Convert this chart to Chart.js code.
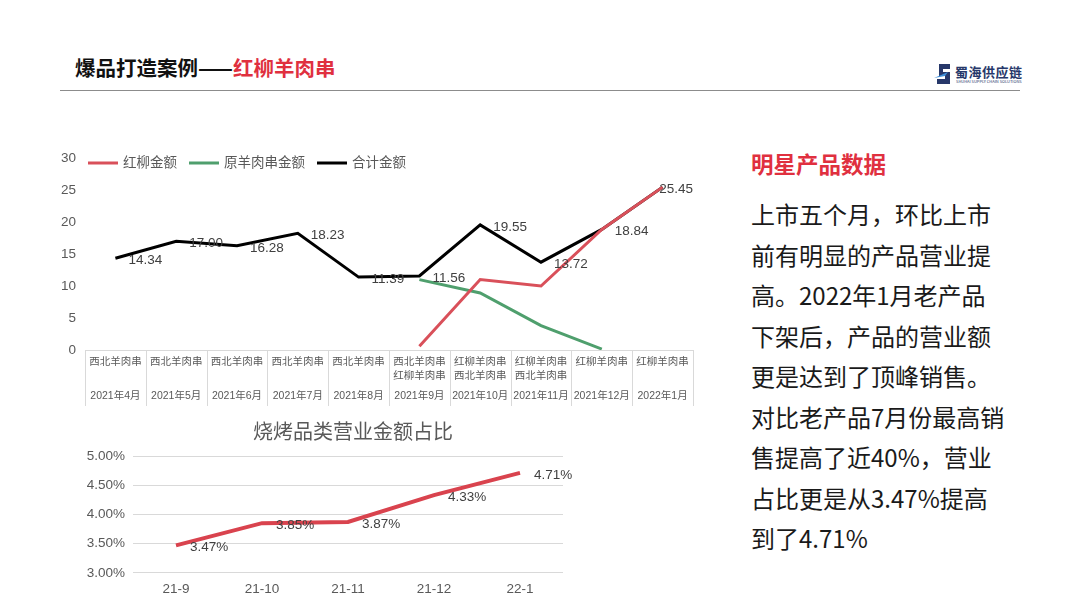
<!DOCTYPE html>
<html>
<head>
<meta charset="utf-8">
<script src="https://cdn.jsdelivr.net/npm/chart.js@4/dist/chart.umd.min.js"></script>
<style>
  body { margin: 0; background: #fff; font-family: 'Noto Sans CJK SC', sans-serif; }
  #page { position: relative; width: 1080px; height: 608px; overflow: hidden; }
  .hdr { position: absolute; left: 75px; top: 52px; font-size: 20.5px; font-weight: 700; color: #111; line-height: 30px; }
  .hdr span { color: #e0303f; }
  .rule { position: absolute; left: 60px; top: 90px; width: 960px; height: 0; border-top: 1.5px solid #8c8c8c; }
  .logo { position: absolute; left: 934px; top: 62px; width: 90px; height: 24px; }
  .logo .name { position: absolute; left: 21px; top: 2px; font-size: 13px; font-weight: 700; color: #27386a; letter-spacing: 0.5px; line-height: 16px; }
  .logo .sub { position: absolute; left: 22px; top: 17px; font-size: 4px; color: #27386a; white-space: nowrap; line-height: 5px; }
  .side-title { position: absolute; left: 751px; top: 147px; font-size: 22.5px; font-weight: 700; color: #e0303f; line-height: 32px; }
  .side-text { position: absolute; left: 751px; top: 194px; font-size: 24px; color: #1a1a1a; line-height: 40.5px; white-space: nowrap; }
  #topWrap { position: absolute; left: 50px; top: 140px; width: 660px; height: 268px; }
  #botWrap { position: absolute; left: 60px; top: 412px; width: 586px; height: 196px; }
</style>
</head>
<body>
<div id="page">
  <div class="hdr">爆品打造案例——<span>红柳羊肉串</span></div>
  <div class="rule"></div>
  <div class="logo">
    <svg width="18" height="22" viewBox="0 0 18 22" style="position:absolute;left:0;top:1px">
      <path d="M5 1h11v5H9v3h7v12H3v-5h8v-3H5z" fill="#27386a"/>
      <path d="M0 15l14-6-3 4z" fill="#3f8fd8"/>
    </svg>
    <div class="name">蜀海供应链</div>
    <div class="sub">SHUHAI SUPPLY CHAIN SOLUTIONS</div>
  </div>

  <div id="topWrap"><canvas id="amountChart"></canvas></div>
  <div id="botWrap"><canvas id="shareChart"></canvas></div>

  <div class="side-title">明星产品数据</div>
  <div class="side-text">上市五个月，环比上市<br>前有明显的产品营业提<br>高。2022年1月老产品<br>下架后，产品的营业额<br>更是达到了顶峰销售。<br>对比老产品7月份最高销<br>售提高了近40%，营业<br>占比更是从3.47%提高<br>到了4.71%</div>
</div>

<script>
// top chart data
const productRows = [
  ['西北羊肉串'], ['西北羊肉串'], ['西北羊肉串'], ['西北羊肉串'], ['西北羊肉串'],
  ['西北羊肉串', '红柳羊肉串'], ['红柳羊肉串', '西北羊肉串'], ['红柳羊肉串', '西北羊肉串'],
  ['红柳羊肉串'], ['红柳羊肉串']
];
const months = ['2021年4月', '2021年5月', '2021年6月', '2021年7月', '2021年8月',
  '2021年9月', '2021年10月', '2021年11月', '2021年12月', '2022年1月'];
const hongliuAmount = [null, null, null, null, null, 0.6, 11.0, 10.0, 18.84, 25.45];
const yuanAmount = [null, null, null, null, null, 11.0, 8.9, 3.8, 0.15, null];
const totalAmount = [14.34, 17.00, 16.28, 18.23, 11.39, 11.56, 19.55, 13.72, 18.84, 25.45];
const amountTicks = [0, 5, 10, 15, 20, 25, 30];

// bottom chart data
const shareMonths = ['21-9', '21-10', '21-11', '21-12', '22-1'];
const sharePct = [3.47, 3.85, 3.87, 4.33, 4.71];
const shareTicks = [3.0, 3.5, 4.0, 4.5, 5.0];

const FONT = "'Liberation Sans', 'Noto Sans CJK SC', sans-serif";
const GREY = '#595959';

// value labels to the right of each point
const valueLabels = {
  id: 'valueLabels',
  afterDatasetsDraw(chart, args, opts) {
    const ctx = chart.ctx;
    chart.data.datasets.forEach((ds, di) => {
      if (!ds.showValues) return;
      const meta = chart.getDatasetMeta(di);
      ctx.save();
      ctx.font = opts.font;
      ctx.fillStyle = opts.color;
      ctx.textBaseline = 'middle';
      meta.data.forEach((pt, i) => {
        const v = ds.data[i];
        if (v == null) return;
        const text = opts.format(v);
        const w = ctx.measureText(text).width;
        let tx = pt.x + opts.dx;
        if (opts.clamp && tx + w > chart.chartArea.right) tx = chart.chartArea.right - w;
        ctx.fillText(text, tx, pt.y + opts.dy);
      });
      ctx.restore();
    });
  }
};

// legend drawn over the top of the plot
const overlayLegend = {
  id: 'overlayLegend',
  afterDraw(chart) {
    const ctx = chart.ctx;
    const y = chart.chartArea.top + 5;
    let x = chart.chartArea.left + 3;
    ctx.save();
    ctx.font = '13.5px ' + FONT;
    ctx.textBaseline = 'middle';
    chart.data.datasets.forEach(ds => {
      ctx.strokeStyle = ds.borderColor;
      ctx.lineWidth = 3;
      ctx.beginPath();
      ctx.moveTo(x, y); ctx.lineTo(x + 30, y);
      ctx.stroke();
      x += 35;
      ctx.fillStyle = GREY;
      ctx.fillText(ds.label, x, y);
      x += ctx.measureText(ds.label).width + 12;
    });
    ctx.restore();
  }
};

// table borders under the category axis
const tableLines = {
  id: 'tableLines',
  afterDraw(chart) {
    const x = chart.scales.x, x2 = chart.scales.x2;
    const ctx = chart.ctx;
    const step = x.getPixelForValue(1) - x.getPixelForValue(0);
    ctx.save();
    ctx.strokeStyle = '#d9d9d9';
    ctx.lineWidth = 1;
    ctx.beginPath();
    ctx.moveTo(x.left, Math.round(x.top) + 0.5);
    ctx.lineTo(x.right, Math.round(x.top) + 0.5);
    for (let i = 0; i <= productRows.length; i++) {
      const px = Math.round(x.getPixelForValue(i) - step / 2) + 0.5;
      ctx.moveTo(px, x.top);
      ctx.lineTo(px, x2.bottom);
    }
    ctx.stroke();
    ctx.restore();
  }
};

const noGrid = { display: false, drawTicks: false };

new Chart(document.getElementById('amountChart').getContext('2d'), {
  type: 'line',
  data: {
    labels: productRows,
    datasets: [
      { label: '红柳金额', data: hongliuAmount, borderColor: '#d9505a', borderWidth: 3, pointRadius: 0, tension: 0 },
      { label: '原羊肉串金额', data: yuanAmount, borderColor: '#4f9f6d', borderWidth: 3, pointRadius: 0, tension: 0 },
      { label: '合计金额', data: totalAmount, borderColor: '#000000', borderWidth: 3, pointRadius: 0, tension: 0, showValues: true }
    ]
  },
  options: {
    responsive: true,
    maintainAspectRatio: false,
    animation: false,
    layout: { padding: { top: 18, right: 17, bottom: 2, left: 0 } },
    plugins: {
      legend: { display: false },
      tooltip: { enabled: false },
      valueLabels: { font: '13.5px ' + FONT, color: '#404040', dx: 13, dy: 2, clamp: true, format: v => v.toFixed(2) }
    },
    scales: {
      x: {
        type: 'category',
        labels: productRows,
        offset: true,
        grid: noGrid,
        border: { display: false },
        ticks: { autoSkip: false, maxRotation: 0, padding: 5, color: GREY, font: { family: FONT, size: 10.5, lineHeight: 1.333 } },
        afterFit: s => { s.height = 34; }
      },
      x2: {
        type: 'category',
        position: 'bottom',
        display: true,
        weight: 1,
        labels: months,
        offset: true,
        grid: noGrid,
        border: { display: false },
        ticks: { autoSkip: false, maxRotation: 0, padding: 5, color: GREY, font: { family: FONT, size: 10.5, lineHeight: 1.333 } },
        afterFit: s => { s.height = 22; }
      },
      y: {
        min: amountTicks[0],
        max: amountTicks[amountTicks.length - 1],
        afterBuildTicks: s => { s.ticks = amountTicks.map(v => ({ value: v })); },
        grid: noGrid,
        border: { display: false },
        ticks: { padding: 9, color: GREY, font: { family: FONT, size: 13.5 } },
        afterFit: s => { s.width = 35; }
      }
    }
  },
  plugins: [valueLabels, overlayLegend, tableLines]
});

new Chart(document.getElementById('shareChart').getContext('2d'), {
  type: 'line',
  data: {
    labels: shareMonths,
    datasets: [
      { label: '营业金额占比', data: sharePct, borderColor: '#d9434e', borderWidth: 4, pointRadius: 0, tension: 0, showValues: true }
    ]
  },
  options: {
    responsive: true,
    maintainAspectRatio: false,
    animation: false,
    layout: { padding: { top: 0, right: 0, bottom: 3, left: 0 } },
    plugins: {
      legend: { display: false },
      tooltip: { enabled: false },
      title: { display: true, text: '烧烤品类营业金额占比', color: GREY, font: { family: FONT, size: 20, weight: 'normal', lineHeight: 1.2 }, padding: { top: 9, bottom: 11 } },
      valueLabels: { font: '13.5px ' + FONT, color: '#404040', dx: 14, dy: 2, clamp: false, format: v => v.toFixed(2) + '%' }
    },
    scales: {
      x: {
        offset: true,
        grid: noGrid,
        border: { display: false },
        ticks: { padding: 8, color: GREY, font: { family: FONT, size: 13.5 } }
      },
      y: {
        min: shareTicks[0],
        max: shareTicks[shareTicks.length - 1],
        afterBuildTicks: s => { s.ticks = shareTicks.map(v => ({ value: v })); },
        grid: { color: '#d9d9d9', drawTicks: false },
        border: { display: false },
        ticks: { padding: 8, color: GREY, font: { family: FONT, size: 13.5 }, callback: v => v.toFixed(2) + '%' },
        afterFit: s => { s.width = 73; }
      },
      // empty right-hand axis keeps room for the last label
      yRight: {
        position: 'right',
        display: true,
        grid: noGrid,
        border: { display: false },
        ticks: { display: false },
        afterFit: s => { s.width = 83; }
      }
    }
  },
  plugins: [valueLabels]
});
</script>
</body>
</html>
